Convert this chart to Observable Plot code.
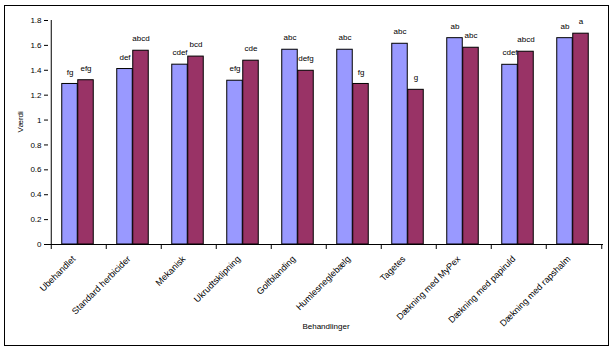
<!DOCTYPE html>
<html>
<head>
<meta charset="utf-8">
<script src="https://cdn.jsdelivr.net/npm/d3@7"></script>
<script src="https://cdn.jsdelivr.net/npm/@observablehq/plot@0.6"></script>
<style>
  html, body { margin: 0; padding: 0; background: #fff; }
  #wrap { position: relative; width: 613px; height: 351px; }
  #border { position: absolute; left: 4px; top: 5px; width: 603px; height: 339px; border: 1px solid #000; pointer-events: none; }
  svg { font-family: "Liberation Sans", Arial, sans-serif; }
</style>
</head>
<body>
<div id="wrap"><div id="border"></div></div>
<script>
const categories = ["Ubehandlet", "Standard herbicider", "Mekanisk", "Ukrudtsklipning", "Golfblanding", "Humlesneglebælg", "Tagetes", "Dækning med MyPex", "Dækning med papiruld", "Dækning med rapshalm"];
const series1 = [1.29, 1.41, 1.445, 1.316, 1.565, 1.565, 1.613, 1.658, 1.444, 1.658];
const series2 = [1.32, 1.557, 1.51, 1.477, 1.396, 1.29, 1.243, 1.581, 1.549, 1.694];
const labels1 = ["fg", "def", "cdef", "efg", "abc", "abc", "abc", "ab", "cdef", "ab"];
const labels2 = ["efg", "abcd", "bcd", "cde", "defg", "fg", "g", "abc", "abcd", "a"];
const yTicks = [0, 0.2, 0.4, 0.6, 0.8, 1, 1.2, 1.4, 1.6, 1.8];

const d1 = categories.map((c, i) => ({cat: c, value: series1[i], label: labels1[i]}));
const d2 = categories.map((c, i) => ({cat: c, value: series2[i], label: labels2[i]}));

const bw = 555 / 10;
const half = bw / 2;
const barW = 16;

const chart = Plot.plot({
  width: 613,
  height: 351,
  marginLeft: 48,
  marginRight: 10,
  marginTop: 20,
  marginBottom: 107,
  style: {fontFamily: "Liberation Sans, Arial, sans-serif", fontSize: "8px", color: "#000", background: "transparent"},
  x: {domain: categories, padding: 0, label: null},
  y: {domain: [0, 1.8], label: null},
  marks: [
    Plot.barY(d1, {x: "cat", y: "value", fill: "#9999FF", stroke: "#000", strokeWidth: 1, insetLeft: half - barW - 1, insetRight: half + 1}),
    Plot.barY(d2, {x: "cat", y: "value", fill: "#993366", stroke: "#000", strokeWidth: 1, insetLeft: half - 1, insetRight: half - barW + 1}),
    Plot.text(d1, {x: "cat", y: "value", text: "label", dx: -9, dy: -12, fontSize: 8, fill: "#000"}),
    Plot.text(d2, {x: "cat", y: "value", text: "label", dx: 7, dy: -12, fontSize: 8, fill: "#000"}),
    Plot.axisY({ticks: yTicks, tickFormat: d => String(d), tickSize: 4, tickPadding: 3, stroke: "#000", fontSize: 8, label: null}),
    Plot.ruleX([0], {x: () => categories[0], dx: -half, stroke: "#000"}),
    Plot.ruleY([0], {stroke: "#000"}),
    Plot.axisX({tickSize: 5, dx: -half, text: null, stroke: "#000"}),
    Plot.axisX([categories[categories.length - 1]], {tickSize: 5, dx: half, text: null, stroke: "#000"}),
    Plot.axisX({tickSize: 0, tickPadding: 13, tickRotate: -45, dx: -5, fontSize: 9, fill: "#000", label: null}),
    Plot.text(["Værdi"], {frameAnchor: "left", dx: -28, rotate: -90, fontSize: 8, fill: "#000"}),
    Plot.text(["Behandlinger"], {frameAnchor: "bottom", dy: 84, fontSize: 8, fill: "#000"})
  ]
});
document.getElementById("wrap").prepend(chart);
</script>
</body>
</html>
